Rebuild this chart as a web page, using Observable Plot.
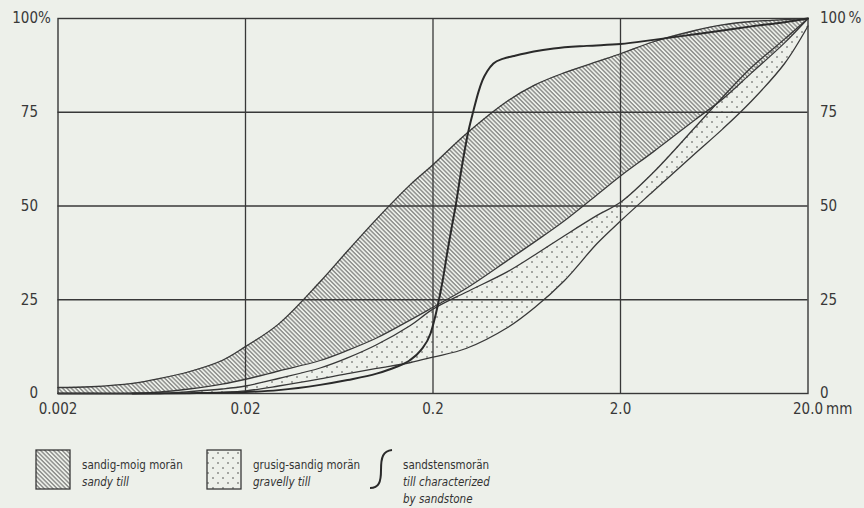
<!DOCTYPE html>
<html>
<head>
<meta charset="utf-8">
<script src="https://cdn.jsdelivr.net/npm/d3@7"></script>
<script src="https://cdn.jsdelivr.net/npm/@observablehq/plot@0.6"></script>
<style>
  html, body { margin: 0; padding: 0; background: #edf0ea; }
  #wrap { width: 864px; height: 508px; position: relative; overflow: hidden; background: #edf0ea; }
  #legend { display: block; }
  .lg { font-family: "DejaVu Sans Condensed", "DejaVu Sans", sans-serif; font-size: 11.5px; fill: #333; }
  .it { font-style: italic; }
</style>
</head>
<body>
<div id="wrap"></div>
<script>
// grain size (mm) at which band boundaries were read
const sizes = [0.002,0.003,0.005,0.007,0.01,0.015,0.02,0.03,0.05,0.07,0.1,0.15,0.2,0.3,0.5,0.7,1,1.5,2,3,5,7,10,15,20];
// sandig-moig morän / sandy till (hatched band)
const sandyUpper = [1.6,1.8,2.7,4.0,5.8,8.8,12.5,18.5,29.8,38,46.5,55.5,61,69.2,78,82.3,85.5,88.5,90.6,93.8,96.8,98.3,99.2,99.7,100];
const sandyLower = [0,0,0,0.4,1.2,2.5,3.8,6,8.8,11.5,14.8,19.5,23,28,35.5,40.5,46,53,58,64.5,73,78.5,85.5,93.5,100];
// grusig-sandig morän / gravelly till (dotted band)
const gravellyUpper = [0,0,0,0,0.5,1.2,2,4,6.8,9.5,13,18,22.5,27,32.5,37,42,47.5,51,59,71,79,87,94.5,100];
const gravellyLower = [0,0,0,0,0,0.3,0.7,2,3.9,5.3,6.7,8.2,9.7,12,17.6,23,30,40,46,54,64,70.5,78,88,98];
// sandstensmorän / till characterized by sandstone (single curve)
const sandstoneSize = [0.005,0.01,0.02,0.03,0.05,0.07,0.1,0.126,0.15,0.172,0.194,0.211,0.225,0.239,0.251,0.264,0.284,0.306,0.329,0.35,0.367,0.39,0.42,0.475,0.54,0.69,0.88,1.32,2,3,5,7,10,15,20];
const sandstone = [0,0.1,0.4,0.9,2.3,3.6,5.3,7,8.8,11.5,16,23,30,38,44,50,60,69,75.5,80.5,83.5,86,88,89.3,90,91.2,92,92.7,93.2,94.3,95.8,96.8,97.9,99,100];
// axes
const xGrid = [0.02, 0.2, 2];
const yGrid = [25, 50, 75];
const xTicks = [0.002, 0.02, 0.2, 2, 20];
const xTickLabels = ["0.002", "0.02", "0.2", "2.0", "20.0"];
const yTicks = [0, 25, 50, 75, 100];
const yTickLabelsLeft = ["0", "25", "50", "75", "100"];
const yTickLabelsRight = ["0", "25", "50", "75", "100\u2009%"];

const bands = sizes.map((d, i) => ({d, su: sandyUpper[i], sl: sandyLower[i], gu: gravellyUpper[i], gl: gravellyLower[i]}));
const sCurve = sandstoneSize.map((d, i) => ({d, p: sandstone[i]}));
const ink = "#383838";
const font = "'DejaVu Sans Condensed', 'DejaVu Sans', sans-serif";
const fs = 15;
const bc = "catmull-rom";

const chart = Plot.plot({
  width: 864,
  height: 425,
  marginLeft: 57.5,
  marginRight: 56.5,
  marginTop: 18,
  marginBottom: 32,
  style: {background: "transparent", color: ink, fontFamily: font, fontSize: fs + "px", overflow: "visible"},
  x: {type: "log", domain: [0.002, 20], axis: null},
  y: {domain: [0, 100], axis: null},
  marks: [
    Plot.areaY(bands, {x: "d", y1: "gl", y2: "gu", fill: "url(#dots)", curve: bc}),
    Plot.areaY(bands, {x: "d", y1: "sl", y2: "su", fill: "url(#hatch)", curve: bc}),
    Plot.ruleX(xGrid, {stroke: ink, strokeWidth: 1.3}),
    Plot.ruleY(yGrid, {stroke: ink, strokeWidth: 1.3}),
    Plot.frame({stroke: ink, strokeWidth: 1.4}),
    Plot.line(bands, {x: "d", y: "su", stroke: ink, strokeWidth: 1.3, curve: bc}),
    Plot.line(bands, {x: "d", y: "sl", stroke: ink, strokeWidth: 1.3, curve: bc}),
    Plot.line(bands, {x: "d", y: "gu", stroke: ink, strokeWidth: 1.3, curve: bc}),
    Plot.line(bands, {x: "d", y: "gl", stroke: ink, strokeWidth: 1.3, curve: bc}),
    Plot.line(sCurve, {x: "d", y: "p", stroke: "#2a2a2a", strokeWidth: 2, curve: "monotone-x"}),
    Plot.text(yTicks, {x: () => 0.002, y: d => d, text: (d, i) => yTickLabelsLeft[i], dx: -20, textAnchor: "end", fill: ink, fontSize: fs}),
    Plot.text([100], {x: () => 0.002, y: d => d, text: () => "%", dx: -20, textAnchor: "start", fill: ink, fontSize: fs}),
    Plot.text(yTicks, {x: () => 20, y: d => d, text: (d, i) => yTickLabelsRight[i], dx: 12, textAnchor: "start", fill: ink, fontSize: fs}),
    Plot.text(xTicks, {x: d => d, y: () => 0, text: (d, i) => xTickLabels[i], dy: 16, textAnchor: "middle", fill: ink, fontSize: fs}),
    Plot.text([20], {x: d => d, y: () => 0, text: () => "mm", dy: 16, dx: 18, textAnchor: "start", fill: ink, fontSize: fs})
  ]
});

const defs = d3.select(chart).insert("defs", ":first-child");
const hatch = defs.append("pattern").attr("id", "hatch").attr("patternUnits", "userSpaceOnUse")
  .attr("width", 6).attr("height", 3.05).attr("patternTransform", "rotate(45)");
hatch.append("line").attr("x1", 0).attr("y1", 1.5).attr("x2", 6).attr("y2", 1.5).attr("stroke", "#4a4a4a").attr("stroke-width", 0.85);
const dots = defs.append("pattern").attr("id", "dots").attr("patternUnits", "userSpaceOnUse")
  .attr("width", 10).attr("height", 10);
dots.append("circle").attr("cx", 2).attr("cy", 2).attr("r", 0.8).attr("fill", "#444");
dots.append("circle").attr("cx", 7).attr("cy", 7).attr("r", 0.8).attr("fill", "#444");

document.getElementById("wrap").appendChild(chart);

// legend (below the chart)
const lg = d3.select("#wrap").append("svg").attr("id", "legend").attr("width", 864).attr("height", 83);
const ldefs = lg.append("defs");
const lh = ldefs.append("pattern").attr("id", "lhatch").attr("patternUnits", "userSpaceOnUse")
  .attr("width", 6).attr("height", 3.05).attr("patternTransform", "rotate(45)");
lh.append("line").attr("x1", 0).attr("y1", 1.5).attr("x2", 6).attr("y2", 1.5).attr("stroke", "#4a4a4a").attr("stroke-width", 0.85);
const ld = ldefs.append("pattern").attr("id", "ldots").attr("patternUnits", "userSpaceOnUse").attr("width", 10).attr("height", 10);
ld.append("circle").attr("cx", 3).attr("cy", 3).attr("r", 0.8).attr("fill", "#444");
ld.append("circle").attr("cx", 8).attr("cy", 8).attr("r", 0.8).attr("fill", "#444");

const oy = -425;
lg.append("rect").attr("x", 36).attr("y", 450 + oy).attr("width", 34).attr("height", 39)
  .attr("fill", "url(#lhatch)").attr("stroke", ink).attr("stroke-width", 1.3);
lg.append("rect").attr("x", 207).attr("y", 450 + oy).attr("width", 34).attr("height", 39)
  .attr("fill", "url(#ldots)").attr("stroke", ink).attr("stroke-width", 1.3);
lg.append("path").attr("d", `M370,${488 + oy} C379,${488 + oy} 381,${482 + oy} 381,${470 + oy} C381,${457 + oy} 383,${451 + oy} 392,${450 + oy}`)
  .attr("fill", "none").attr("stroke", "#2a2a2a").attr("stroke-width", 2);

const legendText = [
  {x: 82, y: 469, t: "sandig-moig morän", it: false},
  {x: 82, y: 486, t: "sandy till", it: true},
  {x: 253, y: 469, t: "grusig-sandig morän", it: false},
  {x: 253, y: 486, t: "gravelly till", it: true},
  {x: 403, y: 469, t: "sandstensmorän", it: false},
  {x: 403, y: 486, t: "till characterized", it: true},
  {x: 403, y: 503, t: "by sandstone", it: true}
];
lg.selectAll("text.lg").data(legendText).join("text")
  .attr("class", d => d.it ? "lg it" : "lg")
  .attr("x", d => d.x).attr("y", d => d.y + oy).text(d => d.t);
</script>
</body>
</html>
